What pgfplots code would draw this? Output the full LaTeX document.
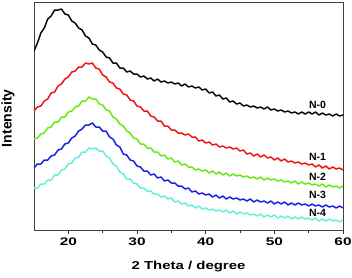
\documentclass[border=0pt]{standalone}
\usepackage{fontspec}
\setmainfont{Liberation Sans}
\newfontfamily\widefont[FakeStretch=1.4]{Liberation Sans}
\newfontfamily\xlfont[FakeStretch=1.3]{Liberation Sans}
\usepackage{pgfplots}
\usepackage{pgfplotstable}
\pgfplotsset{compat=1.18}
\definecolor{cN0}{RGB}{10,10,10}
\definecolor{cN1}{RGB}{240,20,20}
\definecolor{cN2}{RGB}{100,235,20}
\definecolor{cN3}{RGB}{30,30,230}
\definecolor{cN4}{RGB}{100,240,215}
\pgfplotstableread{
x n0 n1 n2 n3 n4
15 179 119 91 62 42
15.5 187 123 92 66 42
16 197 124 96 66 46
16.5 202 129 97 70 46
17 211 131 102 70 50
17.5 214 137 103 74 50
18 220 138 108 75 55
18.5 220 144 108 80 55
19 221 146 113 81 60
19.5 216 151 113 86 61
20 215 153 118 87 66
20.5 209 158 119 92 67
21 207 159 123 94 72
21.5 202 163 124 99 73
22 200 163 129 101 78
22.5 194 167 129 105 78
23 192 166 133 105 82
23.5 186 167 131 107 81
24 185 162 131 103 82
24.5 180 161 126 103 79
25 178 155 125 99 79
25.5 173 153 120 99 74
26 172 148 119 93 72
26.5 167 147 113 91 66
27 167 142 111 85 64
27.5 162 141 106 83 58
28 162 136 104 76 56
28.5 158 135 99 75 51
29 159 130 97 70 51
29.5 156 129 92 69 47
30 156 124 91 64 46
30.5 153 123 86 63 42
31 154 119 86 59 42
31.5 151 119 82 59 39
32 152 114 82 55 39
32.5 149 113 78 56 36
33 151 109 78 52 36
33.5 148 109 74 53 33
34 149 104 75 49 34
34.5 147 104 71 50 31
35 148 100 72 47 32
35.5 146 100 68 47 28
36 147 97 69 44 29
36.5 144 97 65 44 26
37 146 95 66 41 27
37.5 143 96 63 42 24
38 144 93 63 38 25
38.5 142 93 60 39 22
39 143 89 61 36 24
39.5 140 90 59 37 21
40 141 87 60 35 22
40.5 137 88 57 36 20
41 138 85 59 33 21
41.5 134 86 56 35 19
42 135 83 58 32 20
42.5 131 84 55 34 18
43 132 82 57 31 20
43.5 128 83 54 33 17
44 129 81 56 31 19
44.5 126 82 54 32 16
45 127 79 55 30 18
45.5 124 80 53 31 16
46 125 76 54 29 17
46.5 123 77 52 31 15
47 124 74 53 28 16
47.5 122 76 51 30 14
48 123 73 53 28 16
48.5 121 75 50 29 13
49 123 72 52 27 15
49.5 120 73 50 29 13
50 121 70 51 26 15
50.5 119 72 49 28 12
51 120 69 50 26 14
51.5 118 71 48 28 12
52 119 68 49 25 14
52.5 117 69 47 27 11
53 118 67 49 25 13
53.5 116 68 46 27 11
54 118 66 48 25 13
54.5 116 67 46 26 11
55 118 65 47 24 12
55.5 116 66 45 26 10
56 118 63 46 24 12
56.5 115 65 44 25 9
57 117 62 46 23 11
57.5 115 64 43 25 9
58 116 61 45 23 11
58.5 114 63 43 24 9
59 116 61 44 22 10
59.5 114 62 42 24 8
60 115 60 44 22 10
}\xrd
\begin{document}
\begin{tikzpicture}
\begin{axis}[
  scale only axis, width=309pt, height=228pt,
  xmin=15, xmax=60, ymin=0, ymax=228,
  xtick={20,30,40,50,60}, minor xtick={25,35,45,55},
  ytick=\empty,
  xtick pos=left,
  tick align=outside,
  major tick length=4pt, minor tick length=2.5pt,
  every tick/.style={black!80, line width=0.8pt},
  axis line style={black!75, line width=0.9pt},
  tick label style={font=\widefont\bfseries\fontsize{11}{13}\selectfont},
  /pgf/number format/assume math mode=true,
  xlabel={2 Theta / degree},
  xlabel style={font=\xlfont\bfseries\fontsize{11.5}{13}\selectfont, at={(axis description cs:0.5,-0.162)}, anchor=center},
  ylabel={Intensity},
  ylabel style={font=\bfseries\fontsize{14}{16}\selectfont, at={(axis description cs:-0.084,0.49)}, anchor=center},
  clip=true,
]
\addplot[cN0, line width=1.5pt, line join=round] table[x=x, y=n0] {\xrd};
\addplot[cN1, line width=1.5pt, line join=round] table[x=x, y=n1] {\xrd};
\addplot[cN2, line width=1.5pt, line join=round] table[x=x, y=n2] {\xrd};
\addplot[cN3, line width=1.5pt, line join=round] table[x=x, y=n3] {\xrd};
\addplot[cN4, line width=1.5pt, line join=round] table[x=x, y=n4] {\xrd};
\node[font=\bfseries\fontsize{10.5}{12}\selectfont] at (axis cs:56.3,125) {N-0};
\node[font=\bfseries\fontsize{10.5}{12}\selectfont] at (axis cs:56.3,73) {N-1};
\node[font=\bfseries\fontsize{10.5}{12}\selectfont] at (axis cs:56.3,53) {N-2};
\node[font=\bfseries\fontsize{10.5}{12}\selectfont] at (axis cs:56.3,35) {N-3};
\node[font=\bfseries\fontsize{10.5}{12}\selectfont] at (axis cs:56.3,17) {N-4};
\end{axis}
\pgfresetboundingbox
\path[use as bounding box] (-34pt,-47pt) rectangle (318pt,230pt);
\end{tikzpicture}
\end{document}
